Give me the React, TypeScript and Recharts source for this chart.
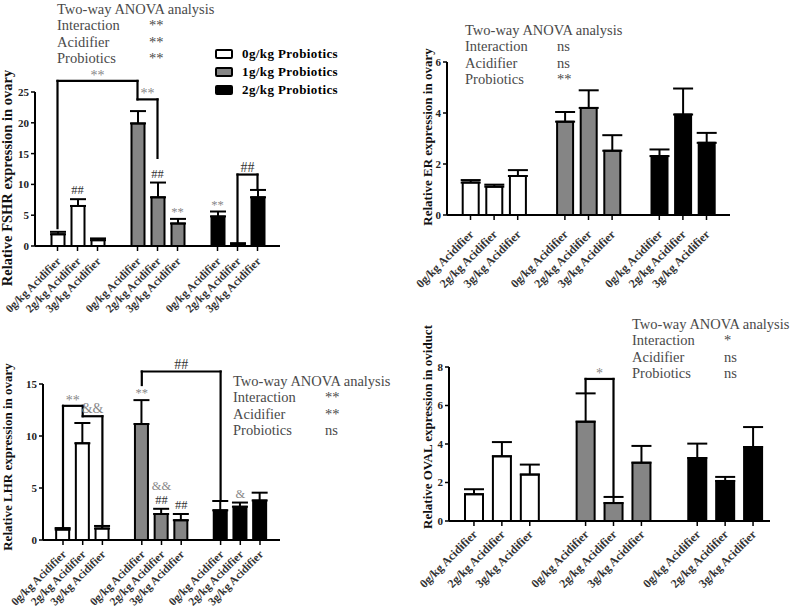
import React from 'react';
import { BarChart, Bar, XAxis, YAxis, Cell, ErrorBar, ReferenceLine, ReferenceDot } from 'recharts';

const acidifierLevels = ['0g/kg Acidifier', '2g/kg Acidifier', '3g/kg Acidifier'];
const probioticLevels = ['0g/kg Probiotics', '1g/kg Probiotics', '2g/kg Probiotics'];
const anovaFactors = ['Interaction', 'Acidifier', 'Probiotics'];

// bar order: 0g probiotics (0/2/3 acidifier), 1g probiotics (...), 2g probiotics (...)
const fshrMean = [1.9, 6.5, 0.95, 19.9, 7.9, 3.65, 4.8, 0.35, 7.9];
const fshrErr = [0.4, 1.1, 0.28, 2.0, 2.4, 0.75, 0.8, 0.1, 1.2];
const fshrAnova = ['**', '**', '**'];

const erMean = [1.27, 1.11, 1.53, 3.66, 4.2, 2.52, 2.31, 3.94, 2.83];
const erErr = [0.1, 0.08, 0.23, 0.38, 0.69, 0.61, 0.26, 1.02, 0.39];
const erAnova = ['ns', 'ns', '**'];

const lhrMean = [1.0, 9.3, 1.1, 11.15, 2.5, 1.9, 2.85, 3.2, 3.8];
const lhrErr = [0.15, 1.95, 0.25, 2.3, 0.5, 0.6, 0.9, 0.4, 0.75];
const lhrAnova = ['**', '**', 'ns'];

const ovalMean = [1.39, 3.36, 2.41, 5.16, 0.93, 3.03, 3.27, 2.08, 3.84];
const ovalErr = [0.26, 0.74, 0.52, 1.47, 0.32, 0.87, 0.75, 0.21, 1.04];
const ovalAnova = ['*', 'ns', 'ns'];

type Bracket = { from: number; to: number; level: number; leftEnd: number; rightEnd: number; text: string };

const fshrBrackets: Bracket[] = [
  { from: 0, to: 3, level: 26.8, leftEnd: 2.9, rightEnd: 23.8, text: '**' },
  { from: 3, to: 4, level: 23.8, leftEnd: 23.8, rightEnd: 14.3, text: '**' },
  { from: 7, to: 8, level: 11.6, leftEnd: 0.5, rightEnd: 9.2, text: '##' },
];
const lhrBrackets: Bracket[] = [
  { from: 0, to: 1, level: 12.9, leftEnd: 1.15, rightEnd: 11.9, text: '**' },
  { from: 1, to: 2, level: 11.9, leftEnd: 11.9, rightEnd: 1.3, text: '&&' },
  { from: 3, to: 6, level: 16.2, leftEnd: 14.9, rightEnd: 3.9, text: '##' },
];
const ovalBrackets: Bracket[] = [
  { from: 3, to: 4, level: 7.38, leftEnd: 6.65, rightEnd: 1.25, text: '*' },
];

// significance marks above single bars, listed bottom to top
const fshrMarks: Record<number, string[]> = { 1: ['##'], 4: ['##'], 5: ['**'], 6: ['**'] };
const lhrMarks: Record<number, string[]> = { 3: ['**'], 4: ['##', '&&'], 5: ['##'], 7: ['&'] };

const BAR_FILLS = ['#ffffff', '#858585', '#000000'];
const SERIF = '"Liberation Serif", "Times New Roman", serif';

const markColor = (t: string) => (t.startsWith('#') ? '#333' : '#888');

type Row = { key: string; mean: number | null; err: number[] | null; group: number; label: string };

function buildRows(mean: number[], err: number[]): Row[] {
  const rows: Row[] = [];
  mean.forEach((m, i) => {
    const g = Math.floor(i / 3);
    if (i > 0 && i % 3 === 0) rows.push({ key: `gap${g}`, mean: null, err: null, group: -1, label: '' });
    rows.push({ key: `b${i}`, mean: m, err: [0, err[i]], group: g, label: acidifierLevels[i % 3] });
  });
  return rows;
}

function SlantTick(props: any) {
  const { x, y, payload, rows, fontSize, dy } = props;
  const row = rows.find((r: Row) => r.key === payload.value);
  if (!row || !row.label) return null;
  const ax = x + 4;
  const ay = y + dy;
  return (
    <g>
      <line x1={x} y1={y - 7} x2={x} y2={y - 2} stroke="#000" strokeWidth={1.5} />
      <text x={ax} y={ay} transform={`rotate(-45 ${ax} ${ay})`} textAnchor="end"
        fontFamily={SERIF} fontWeight="bold" fontSize={fontSize} fill="#333">
        {row.label}
      </text>
    </g>
  );
}

function AxisTitle(props: any) {
  const vb = props.viewBox || { x: 0, y: 0, width: 0, height: 0 };
  const cx = vb.x + props.dx;
  const cy = vb.y + vb.height / 2 + props.dy;
  return (
    <text x={cx} y={cy} transform={`rotate(-90 ${cx} ${cy})`} textAnchor="middle" dominantBaseline="central"
      fontFamily={SERIF} fontWeight="bold" fontSize={props.size} fill="#111">
      {props.text}
    </text>
  );
}

function BracketLabel(props: any) {
  const vb = props.viewBox || { x: 0, y: 0, width: 0, height: 0 };
  const gap = props.text.startsWith('*') ? 1 : 3;
  return (
    <text x={vb.x + vb.width / 2} y={vb.y - gap} textAnchor="middle" fontFamily={SERIF} fontSize={14}
      fill={markColor(props.text)}>
      {props.text}
    </text>
  );
}

function MarkStack({ cx, cy, marks }: { cx: number; cy: number; marks: string[] }) {
  return (
    <g>
      {marks.map((m, i) => (
        <text key={i} x={cx} y={cy - (m.startsWith('*') ? 3 : 5) - i * 14} textAnchor="middle"
          fontFamily={SERIF} fontSize={12.5} fill={markColor(m)}>
          {m}
        </text>
      ))}
    </g>
  );
}

type Layout = {
  left: number; top: number; width: number; height: number;
  margin: { top: number; right: number; bottom: number; left: number };
  yAxisWidth: number; xAxisHeight: number; domain: number[]; ticks: number[];
  pad: number[]; barSize: number; cap: number;
  titleDx: number; titleDy: number; titleSize: number; tickFont: number; tickDy: number;
};

function Panel({ title, mean, err, brackets, marks, L }: {
  title: string; mean: number[]; err: number[]; brackets: Bracket[]; marks: Record<number, string[]>; L: Layout;
}) {
  const rows = buildRows(mean, err);
  const line = { stroke: '#000', strokeWidth: 2.2, strokeLinecap: 'square' as const, ifOverflow: 'visible' as const };
  const bracketEls: React.ReactNode[] = [];
  brackets.forEach((b, i) => {
    const a = `b${b.from}`;
    const c = `b${b.to}`;
    bracketEls.push(
      <ReferenceLine key={`h${i}`} segment={[{ x: a, y: b.level }, { x: c, y: b.level }]} {...line}
        label={<BracketLabel text={b.text} />} />
    );
    if (b.leftEnd < b.level)
      bracketEls.push(<ReferenceLine key={`l${i}`} segment={[{ x: a, y: b.level }, { x: a, y: b.leftEnd }]} {...line} />);
    if (b.rightEnd < b.level)
      bracketEls.push(<ReferenceLine key={`r${i}`} segment={[{ x: c, y: b.level }, { x: c, y: b.rightEnd }]} {...line} />);
  });
  const markEls = Object.keys(marks).map((k) => {
    const i = Number(k);
    return (
      <ReferenceDot key={`m${k}`} x={`b${i}`} y={mean[i] + err[i]} r={2} ifOverflow="visible"
        shape={(p: any) => <MarkStack cx={p.cx} cy={p.cy} marks={marks[i]} />} />
    );
  });

  return (
    <div style={{ position: 'absolute', left: L.left, top: L.top }}>
      <BarChart width={L.width} height={L.height} data={rows} margin={L.margin}>
        <XAxis dataKey="key" type="category" interval={0} height={L.xAxisHeight}
          padding={{ left: L.pad[0], right: L.pad[1] }}
          axisLine={{ stroke: '#000', strokeWidth: 2 }} tickLine={false} tickSize={5} tickMargin={2}
          tick={(p: any) => <SlantTick {...p} rows={rows} fontSize={L.tickFont} dy={L.tickDy} />} />
        <YAxis type="number" domain={L.domain} ticks={L.ticks} width={L.yAxisWidth} interval={0}
          axisLine={{ stroke: '#000', strokeWidth: 2 }} tickLine={{ stroke: '#000', strokeWidth: 1.5 }}
          tickSize={4} tickMargin={2}
          tick={{ fontFamily: SERIF, fontWeight: 'bold', fontSize: 11, fill: '#222' }}
          label={<AxisTitle text={title} dx={L.titleDx} dy={L.titleDy} size={L.titleSize} />} />
        <Bar dataKey="mean" barSize={L.barSize} isAnimationActive={false} stroke="#000" strokeWidth={2}>
          {rows.map((r) => (
            <Cell key={r.key} fill={r.group >= 0 ? BAR_FILLS[r.group] : 'none'} stroke={r.group >= 0 ? '#000' : 'none'} />
          ))}
          <ErrorBar dataKey="err" width={L.cap} stroke="#000" strokeWidth={2} direction="y" />
        </Bar>
        {bracketEls}
        {markEls}
      </BarChart>
    </div>
  );
}

function Anova({ x, y, values }: { x: number; y: number; values: string[] }) {
  return (
    <div style={{ position: 'absolute', left: x, top: y - 8, fontFamily: SERIF, fontSize: 14.5,
      lineHeight: '16.3px', color: '#4a4a4a', whiteSpace: 'nowrap' }}>
      <div>Two-way ANOVA analysis</div>
      {anovaFactors.map((f, i) => (
        <div key={f} style={{ display: 'flex' }}>
          <span style={{ width: 92, display: 'inline-block' }}>{f}</span>
          <span>{values[i]}</span>
        </div>
      ))}
    </div>
  );
}

const fshrLayout: Layout = {
  left: 0, top: 0, width: 300, height: 322, margin: { top: 92, right: 20, bottom: 10, left: 0 },
  yAxisWidth: 35, xAxisHeight: 66, domain: [0, 25], ticks: [0, 5, 10, 15, 20, 25], pad: [12.5, 12.5],
  barSize: 13, cap: 8, titleDx: 7, titleDy: 9, titleSize: 14.5, tickFont: 11.5, tickDy: 9,
};
const erLayout: Layout = {
  left: 400, top: 0, width: 391, height: 300, margin: { top: 62, right: 61, bottom: 10, left: 0 },
  yAxisWidth: 47, xAxisHeight: 75, domain: [0, 6], ticks: [0, 2, 4, 6], pad: [11.7, 11.7],
  barSize: 16, cap: 10, titleDx: 27, titleDy: -1.5, titleSize: 13, tickFont: 12, tickDy: 13,
};
const lhrLayout: Layout = {
  left: 0, top: 312, width: 300, height: 295, margin: { top: 72, right: 20, bottom: 7, left: 0 },
  yAxisWidth: 43, xAxisHeight: 60, domain: [0, 15], ticks: [0, 5, 10, 15], pad: [10.15, 10.15],
  barSize: 13, cap: 8, titleDx: 7.5, titleDy: -5, titleSize: 13, tickFont: 11.5, tickDy: 8,
};
const ovalLayout: Layout = {
  left: 400, top: 300, width: 391, height: 307, margin: { top: 67, right: 21, bottom: 6, left: 0 },
  yAxisWidth: 49, xAxisHeight: 80, domain: [0, 8], ticks: [0, 2, 4, 6, 8], pad: [11, 3],
  barSize: 18, cap: 10, titleDx: 27, titleDy: -17, titleSize: 13, tickFont: 12, tickDy: 7,
};

export default function App() {
  return (
    <div style={{ position: 'absolute', left: 0, top: 0, width: 791, height: 607, background: '#fff', overflow: 'hidden' }}>
      <Panel title="Relative FSHR expression in ovary" mean={fshrMean} err={fshrErr} brackets={fshrBrackets} marks={fshrMarks} L={fshrLayout} />
      <Panel title="Relative ER expression in ovary" mean={erMean} err={erErr} brackets={[]} marks={{}} L={erLayout} />
      <Panel title="Relative LHR expression in ovary" mean={lhrMean} err={lhrErr} brackets={lhrBrackets} marks={lhrMarks} L={lhrLayout} />
      <Panel title="Relative OVAL expression in oviduct" mean={ovalMean} err={ovalErr} brackets={ovalBrackets} marks={{}} L={ovalLayout} />

      <Anova x={57} y={9} values={fshrAnova} />
      <Anova x={465} y={30} values={erAnova} />
      <Anova x={233} y={381} values={lhrAnova} />
      <Anova x={632} y={324} values={ovalAnova} />

      <div style={{ position: 'absolute', left: 215, top: 45, fontFamily: SERIF, fontWeight: 'bold', fontSize: 13, letterSpacing: 0.4 }}>
        {probioticLevels.map((p, i) => (
          <div key={p} style={{ display: 'flex', alignItems: 'center', height: 18 }}>
            <span style={{ width: 14, height: 6, border: '2px solid #000', borderRadius: 2, background: BAR_FILLS[i], marginRight: 9 }} />
            <span>{p}</span>
          </div>
        ))}
      </div>
    </div>
  );
}
